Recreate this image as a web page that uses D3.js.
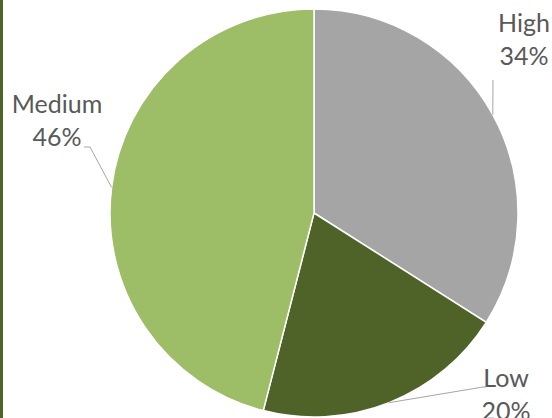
<!DOCTYPE html>
<html>
<head>
<meta charset="utf-8">
<script src="https://cdn.jsdelivr.net/npm/d3@7"></script>
<style>
  body { margin: 0; background: #fff; }
  svg { display: block; }
</style>
</head>
<body>
<div id="chart"></div>
<script>
// Chart data
const categories = ['High', 'Low', 'Medium'];
const values = [34, 20, 46];
const colors = ['#a5a5a5', '#4f6228', '#9dbd66'];

// Label placement (text centre x, first baseline y) and leader line bends
const labelPos = [
  { x: 524, y: 32, bend: [493, 80] },
  { x: 506, y: 387, bend: [483, 387] },
  { x: 57, y: 113, bend: [90, 147] }
];

const width = 552;
const height = 418;
const cx = 314, cy = 213, radius = 204;

const svg = d3.select('#chart')
  .append('svg')
  .attr('width', width)
  .attr('height', height);

// dark green strip down the left edge
svg.append('rect')
  .attr('x', 0).attr('y', 0)
  .attr('width', 3).attr('height', height)
  .attr('fill', '#4f6228');

const pie = d3.pie().sort(null).value(d => d);
const arcs = pie(values);
const arc = d3.arc().innerRadius(0).outerRadius(radius);

const g = svg.append('g').attr('transform', `translate(${cx},${cy})`);

g.selectAll('path')
  .data(arcs)
  .enter()
  .append('path')
  .attr('d', arc)
  .attr('fill', (d, i) => colors[i])
  .attr('stroke', '#fff')
  .attr('stroke-width', 1.5);

// leader lines from slice edge to label
const edge = d3.arc().innerRadius(radius).outerRadius(radius);
arcs.forEach((d, i) => {
  const p = edge.centroid(d);
  const lp = labelPos[i];
  let pts = [[p[0] + cx, p[1] + cy], lp.bend];
  if (i === 1) pts.push([lp.bend[0] + 3, lp.bend[1]]);
  if (i === 2) pts.push([lp.bend[0] - 6, lp.bend[1]]);
  svg.append('path')
    .attr('d', d3.line()(pts))
    .attr('fill', 'none')
    .attr('stroke', '#a6a6a6')
    .attr('stroke-width', 1);
});

// labels
const total = d3.sum(values);
arcs.forEach((d, i) => {
  const lp = labelPos[i];
  const t = svg.append('text')
    .attr('x', lp.x)
    .attr('y', lp.y)
    .attr('text-anchor', 'middle')
    .attr('font-family', 'Lato, sans-serif')
    .attr('font-size', 25)
    .attr('fill', '#595959');
  t.append('tspan').attr('x', lp.x).text(categories[i]);
  t.append('tspan').attr('x', lp.x).attr('dy', 33)
    .text(Math.round(values[i] / total * 100) + '%');
});
</script>
</body>
</html>
